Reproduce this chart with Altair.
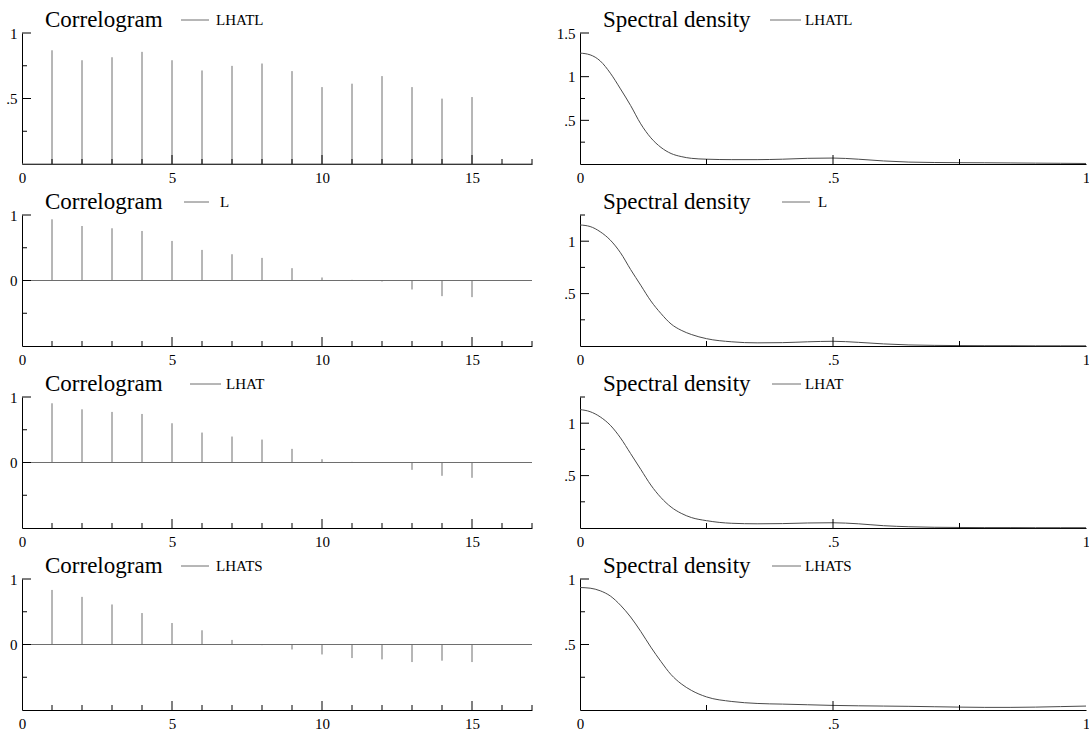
import altair as alt
import pandas as pd

FONT = "Liberation Serif"
STEM = "#6e6e6e"
CURVE = "#4a4a4a"
W_L, W_R, H = 510, 506, 131

series = ["LHATL", "L", "LHAT", "LHATS"]
titles_left = ["Correlogram"] * 4
titles_right = ["Spectral density"] * 4

lags = list(range(1, 16))
acf_lhatl = [0.868, 0.792, 0.815, 0.856, 0.792, 0.714, 0.749, 0.767, 0.709, 0.587, 0.613, 0.671, 0.587, 0.499, 0.511]
acf_l = [0.934, 0.832, 0.797, 0.756, 0.604, 0.467, 0.401, 0.345, 0.188, 0.046, 0.010, -0.015, -0.137, -0.239, -0.254]
acf_lhat = [0.904, 0.812, 0.772, 0.741, 0.599, 0.457, 0.396, 0.350, 0.208, 0.050, 0.010, -0.005, -0.112, -0.203, -0.234]
acf_lhats = [0.833, 0.727, 0.611, 0.480, 0.328, 0.217, 0.070, -0.010, -0.076, -0.152, -0.207, -0.227, -0.268, -0.247, -0.268]

freq = [0, .02, .04, .06, .08, .10, .12, .14, .16, .18, .20, .22, .25, .30, .35, .40,
        .45, .50, .55, .60, .65, .70, .75, .80, .85, .90, .95, 1.0]
sd_lhatl = [1.27, 1.25, 1.18, 1.04, 0.86, 0.67, 0.46, 0.30, 0.19, 0.12, 0.085, 0.065, 0.055, 0.05,
            0.05, 0.055, 0.065, 0.068, 0.055, 0.035, 0.022, 0.017, 0.015, 0.014, 0.012, 0.010, 0.008, 0.006]
sd_l = [1.155, 1.14, 1.09, 1.01, 0.89, 0.73, 0.58, 0.43, 0.31, 0.21, 0.15, 0.11, 0.07, 0.04,
        0.03, 0.032, 0.04, 0.045, 0.035, 0.02, 0.01, 0.006, 0.004, 0.003, 0.003, 0.002, 0.002, 0.002]
sd_lhat = [1.13, 1.11, 1.06, 0.98, 0.86, 0.71, 0.56, 0.41, 0.29, 0.20, 0.14, 0.10, 0.07, 0.045,
           0.04, 0.042, 0.048, 0.05, 0.04, 0.022, 0.012, 0.007, 0.005, 0.004, 0.004, 0.003, 0.003, 0.003]
sd_lhats = [0.935, 0.93, 0.91, 0.87, 0.80, 0.71, 0.60, 0.48, 0.37, 0.27, 0.20, 0.15, 0.10, 0.065,
            0.05, 0.045, 0.04, 0.035, 0.032, 0.03, 0.028, 0.025, 0.022, 0.02, 0.02, 0.022, 0.026, 0.03]

acfs = [acf_lhatl, acf_l, acf_lhat, acf_lhats]
sds = [sd_lhatl, sd_l, sd_lhat, sd_lhats]

# y-axis settings per panel
corr_ydom = [[0, 1], [-1, 1], [-1, 1], [-1, 1]]
corr_ylab = [[0.5, 1], [0, 1], [0, 1], [0, 1]]
corr_ymaj = [[0.5, 1], [0, 1], [0, 1], [0, 1]]
corr_ymin = [[0.25, 0.75], [-0.5, 0.5], [-0.5, 0.5], [-0.5, 0.5]]
sd_ydom = [[0, 1.5], [0, 1.25], [0, 1.25], [0, 1]]
sd_ylab = [[0.5, 1, 1.5], [0.5, 1], [0.5, 1], [0.5, 1]]
sd_ymaj = [[0.5, 1, 1.5], [0.5, 1], [0.5, 1], [0.5, 1]]
sd_ymin = [[0.25, 0.75], [0.25, 0.75, 1.25], [0.25, 0.75, 1.25], [0.25, 0.75]]

corr_xlab = [0, 5, 10, 15]
corr_xmaj = [5, 10, 15]
corr_xmin = [1, 2, 3, 4, 6, 7, 8, 9, 11, 12, 13, 14, 16, 17]
sd_xlab = [0, 0.5, 1]
sd_xmaj = [0.5]
sd_xmin = [0.25, 0.75]

# legend placement (plot-relative pixels)
corr_leg = [(159, 187, 194), (162, 187, 198), (168, 199, 204), (159, 187, 194)]
sd_leg = [(190, 221, 225), (202, 230, 238), (192, 221, 225), (192, 221, 225)]

LABEL_EXPR = "replace(format(datum.value, '~g'), '0.', '.')"


def axis(values, orient):
    return alt.Axis(values=values, title=None, ticks=False, grid=False, domain=True,
                    domainColor="black", domainWidth=1, labelFont=FONT, labelFontSize=15,
                    labelColor="black", labelFlush=False, labelOverlap=False,
                    labelPadding=6 if orient == "x" else 5, labelExpr=LABEL_EXPR)


def tick_layers(xs, ys, xax, yax, xmaj, xmin, ymaj, ymin):
    out = []
    for vals, ln in ((xmaj, 9), (xmin, 5)):
        out.append(alt.Chart(pd.DataFrame({"v": vals})).mark_rule(color="black", strokeWidth=1).encode(
            x=alt.X("v:Q", scale=xs, axis=xax), y=alt.value(H), y2=alt.value(H - ln)))
    for vals, ln in ((ymaj, 9), (ymin, 5)):
        out.append(alt.Chart(pd.DataFrame({"v": vals})).mark_rule(color="black", strokeWidth=1).encode(
            y=alt.Y("v:Q", scale=ys, axis=yax), x=alt.value(0), x2=alt.value(ln)))
    return out


def header_layers(title, name, leg):
    x1, x2, xt = leg
    t = alt.Chart(pd.DataFrame({"t": [title]})).mark_text(
        align="left", baseline="alphabetic", font=FONT, fontSize=23, color="black"
    ).encode(x=alt.value(23), y=alt.value(-6), text="t:N")
    line = alt.Chart(pd.DataFrame({"t": [name]})).mark_rule(color=STEM, strokeWidth=1).encode(
        x=alt.value(x1), x2=alt.value(x2), y=alt.value(-13))
    txt = alt.Chart(pd.DataFrame({"t": [name]})).mark_text(
        align="left", baseline="alphabetic", font=FONT, fontSize=15, color="black"
    ).encode(x=alt.value(xt), y=alt.value(-8), text="t:N")
    return [t, line, txt]


def corr_panel(i):
    xs = alt.Scale(domain=[0, 17], nice=False, zero=False)
    ys = alt.Scale(domain=corr_ydom[i], nice=False, zero=False)
    xax = axis(corr_xlab, "x")
    yax = axis(corr_ylab[i], "y")
    df = pd.DataFrame({"lag": lags, "r": acfs[i]})
    zero = alt.Chart(pd.DataFrame({"z": [0]})).mark_rule(color=STEM, strokeWidth=1).encode(
        y=alt.Y("z:Q", scale=ys, axis=yax))
    stems = alt.Chart(df).mark_rule(color=STEM, strokeWidth=1).encode(
        x=alt.X("lag:Q", scale=xs, axis=xax),
        y=alt.Y("r:Q", scale=ys, axis=yax),
        y2=alt.datum(0))
    layers = [zero, stems] + tick_layers(xs, ys, xax, yax, corr_xmaj, corr_xmin, corr_ymaj[i], corr_ymin[i])
    layers += header_layers(titles_left[i], series[i], corr_leg[i])
    return alt.layer(*layers).properties(width=W_L, height=H)


def sd_panel(i):
    xs = alt.Scale(domain=[0, 1], nice=False, zero=False)
    ys = alt.Scale(domain=sd_ydom[i], nice=False, zero=False)
    xax = axis(sd_xlab, "x")
    yax = axis(sd_ylab[i], "y")
    df = pd.DataFrame({"f": freq, "d": sds[i]})
    line = alt.Chart(df).mark_line(color=CURVE, strokeWidth=1, interpolate="monotone").encode(
        x=alt.X("f:Q", scale=xs, axis=xax),
        y=alt.Y("d:Q", scale=ys, axis=yax))
    layers = [line] + tick_layers(xs, ys, xax, yax, sd_xmaj, sd_xmin, sd_ymaj[i], sd_ymin[i])
    layers += header_layers(titles_right[i], series[i], sd_leg[i])
    return alt.layer(*layers).properties(width=W_R, height=H)


panels = []
for i in range(4):
    panels.append(corr_panel(i))
    panels.append(sd_panel(i))

chart = alt.concat(*panels, columns=2, spacing={"row": 51, "column": 48}, bounds="flush").properties(
    autosize=alt.AutoSizeParams(type="none"),
    padding={"left": 22, "top": 33, "right": 1067, "bottom": 698},
    background="white",
).configure_view(stroke=None).configure_axis(
    labelFont=FONT, labelFontSize=15, labelColor="black"
)

chart.save("out.html", embed_options={"renderer": "svg", "actions": False})
